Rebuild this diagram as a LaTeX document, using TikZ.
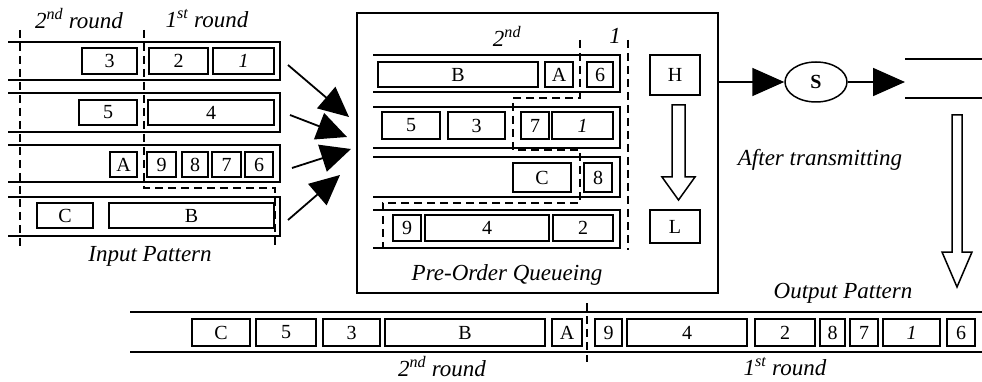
\documentclass[tikz,border=0pt]{standalone}
\usepackage{fontspec}
\setmainfont{Liberation Serif}
\usetikzlibrary{arrows.meta,shapes.geometric}
\tikzset{
  pkt/.style={draw,line width=1.5pt,inner sep=0pt,font=\fontsize{20}{20}\selectfont},
  qline/.style={line width=1.6pt},
  dline/.style={line width=1.6pt,dash pattern=on 8pt off 5pt},
  lbl/.style={inner sep=0pt,font=\fontsize{23}{23}\selectfont\itshape},
  bigarrow/.style={line width=1.8pt,-{Triangle[length=30pt,width=28pt]}},
  hollow/.style={draw,line width=1.5pt,fill=white},
}
\newcommand\pk[6]{\node[pkt,minimum width={(#3-#2)*1pt},minimum height={(#5-#4)*1pt}] (#1) at ({(#2+#3)/2},{(#4+#5)/2}) {#6};}
\begin{document}
\begin{tikzpicture}[x=1pt,y=-1pt]
\useasboundingbox (0,0) rectangle (982,382);
% ---------------- Input pattern ----------------
\draw[qline] (8,42) -- (280,42) -- (280,80) -- (8,80);
\draw[qline] (8,93) -- (280,93) -- (280,132) -- (8,132);
\draw[qline] (8,145) -- (280,145) -- (280,182) -- (8,182);
\draw[qline] (8,197) -- (280,197) -- (280,236) -- (8,236);
\pk{i3}{82}{137}{48}{74}{3}
\pk{i2}{149}{208}{48}{74}{2}
\pk{i1}{213}{274}{48}{74}{\textit{1}}
\pk{i5}{79}{137}{100}{125}{5}
\pk{i4}{148}{274}{100}{125}{4}
\pk{iA}{110}{137}{152}{177}{A}
\pk{i9}{147}{176}{152}{177}{9}
\pk{i8}{182}{208}{152}{177}{8}
\pk{i7}{212}{241}{152}{177}{7}
\pk{i6}{245}{273}{152}{177}{6}
\pk{iC}{37}{93}{203}{228}{C}
\pk{iB}{109}{274}{203}{228}{B}
\draw[dline] (20,30) -- (20,248);
\draw[dline] (144,30) -- (144,188) -- (275,188) -- (275,248);
\node[lbl] (l2r) at (79,19) {2\textsuperscript{nd} round};
\node[lbl] (l1r) at (207,19) {1\textsuperscript{st} round};
\node[lbl] (linp) at (150,256) {Input Pattern};
% arrows into queueing block
\coordinate (a1s) at (288,65);  \coordinate (a1e) at (349,117);
\coordinate (a2s) at (290,115); \coordinate (a2e) at (347,137);
\coordinate (a3s) at (292,168); \coordinate (a3e) at (351,149);
\coordinate (a4s) at (288,220); \coordinate (a4e) at (340,175);
\draw[bigarrow] (a1s) -- (a1e);
\draw[bigarrow] (a2s) -- (a2e);
\draw[bigarrow] (a3s) -- (a3e);
\draw[bigarrow] (a4s) -- (a4e);
% ---------------- Pre-order queueing ----------------
\node[draw,line width=1.6pt,minimum width=361pt,minimum height=280pt,inner sep=0pt] (poq) at (537.5,153) {};
\draw[qline] (373,55) -- (620,55) -- (620,92) -- (373,92);
\draw[qline] (373,107) -- (620,107) -- (620,148) -- (373,148);
\draw[qline] (373,157) -- (620,157) -- (620,197) -- (373,197);
\draw[qline] (373,210) -- (620,210) -- (620,248) -- (373,248);
\pk{qB}{378}{538}{62}{87}{B}
\pk{qA}{545}{573}{62}{87}{A}
\pk{q6}{587}{613}{62}{87}{6}
\pk{q5}{382}{440}{112}{139}{5}
\pk{q3}{448}{505}{112}{139}{3}
\pk{q7}{521}{549}{112}{139}{7}
\pk{q1}{552}{613}{112}{139}{\textit{1}}
\pk{qC}{513}{571}{163}{192}{C}
\pk{q8}{584}{612}{163}{192}{8}
\pk{q9}{393}{421}{215}{241}{9}
\pk{q4}{425}{549}{215}{241}{4}
\pk{q2}{553}{613}{215}{241}{2}
\draw[dline] (580,40) -- (580,98) -- (513,98) -- (513,150) -- (580,150) -- (580,203) -- (383,203) -- (383,248);
\draw[dline] (628,40) -- (628,250);
\node[lbl] (l2nd) at (507,36) {2\textsuperscript{nd}};
\node[lbl] (l1st) at (615,36) {1};
\node[lbl] (lpoq) at (507,275) {Pre-Order Queueing};
\node[draw,line width=1.5pt,minimum width=50pt,minimum height=40pt,inner sep=0pt,font=\fontsize{20}{20}\selectfont] (H) at (675,75) {H};
\node[draw,line width=1.5pt,minimum width=50pt,minimum height=33pt,inner sep=0pt,font=\fontsize{20}{20}\selectfont] (L) at (675,226.5) {L};
\draw[hollow] (672,105) -- (685,105) -- (685,177) -- (695,177) -- (678.5,200) -- (662,177) -- (672,177) -- cycle;
% ---------------- Server and output ----------------
\node[draw,ellipse,line width=1.5pt,minimum width=62pt,minimum height=40pt,inner sep=0pt,font=\fontsize{20}{20}\selectfont\bfseries] (S) at (816,82) {S};
\coordinate (outin) at (905,82);
\draw[bigarrow,-{Triangle[length=32pt,width=28pt]}] (poq.east |- S.west) -- (S.west);
\draw[bigarrow,-{Triangle[length=32pt,width=28pt]}] (S.east) -- (outin);
\draw[qline] (905,59) -- (982,59);
\draw[qline] (905,98) -- (982,98);
\node[lbl] (laft) at (820,160) {After transmitting};
\draw[hollow] (952,115) -- (962,115) -- (962,252) -- (972,252) -- (957,287) -- (942,252) -- (952,252) -- cycle;
\node[lbl] (lout) at (843,293) {Output Pattern};
% ---------------- Output pattern ----------------
\draw[qline] (130,312) -- (982,312);
\draw[qline] (130,352) -- (982,352);
\pk{oC}{192}{250}{319}{346}{C}
\pk{o5}{256}{316}{319}{346}{5}
\pk{o3}{323}{380}{319}{346}{3}
\pk{oB}{385}{545}{319}{346}{B}
\pk{oA}{552}{582}{319}{346}{A}
\pk{o9}{595}{622}{319}{346}{9}
\pk{o4}{627}{747}{319}{346}{4}
\pk{o2}{755}{815}{319}{346}{2}
\pk{o8}{820}{845}{319}{346}{8}
\pk{o7}{850}{878}{319}{346}{7}
\pk{o1}{883}{940}{319}{346}{\textit{1}}
\pk{o6}{947}{975}{319}{346}{6}
\draw[dline] (587,303) -- (587,362);
\node[lbl] (lo2) at (442,367) {2\textsuperscript{nd} round};
\node[lbl] (lo1) at (785,367) {1\textsuperscript{st} round};
\end{tikzpicture}
\end{document}
